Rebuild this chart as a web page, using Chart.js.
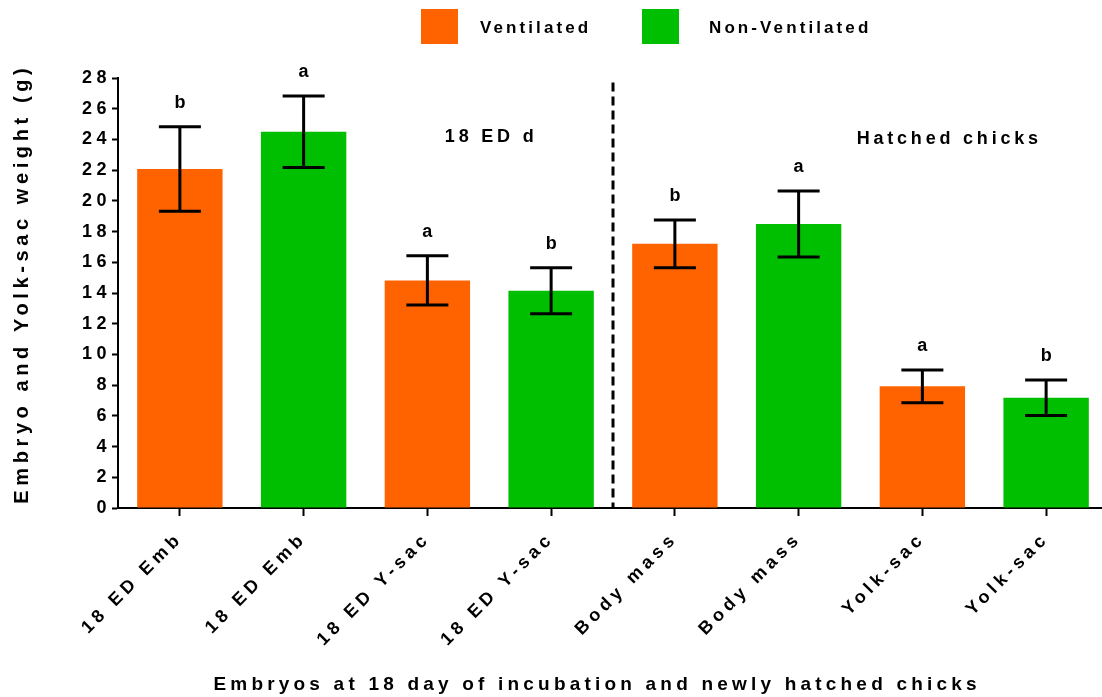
<!DOCTYPE html>
<html>
<head>
<meta charset="utf-8">
<script src="https://cdn.jsdelivr.net/npm/chart.js@4.4.1/dist/chart.umd.min.js"></script>
<style>
  html, body { margin: 0; padding: 0; background: #fff; overflow: hidden; }
  #wrap { position: relative; width: 1108px; height: 697px; }
</style>
</head>
<body>
<div id="wrap"><canvas id="chart"></canvas></div>
<script>
// categories on the x axis
const categories = ['18 ED Emb', '18 ED Emb', '18 ED Y-sac', '18 ED Y-sac',
                    'Body mass', 'Body mass', 'Yolk-sac', 'Yolk-sac'];
const seriesNames = ['Ventilated', 'Non-Ventilated'];

// means and error (+/-), null where the other group sits
const ventilatedMean = [22.08, null, 14.82, null, 17.2, null, 7.92, null];
const ventilatedErr  = [2.75,  null, 1.6,   null, 1.55, null, 1.07, null];
const nonVentMean    = [null, 24.5, null, 14.15, null, 18.5, null, 7.18];
const nonVentErr     = [null, 2.33, null, 1.5,   null, 2.15, null, 1.15];

// significance letters above each bar
const sigLetters = ['b', 'a', 'a', 'b', 'b', 'a', 'a', 'b'];

// y axis ticks
const yMin = 0, yMax = 28, yStep = 2;

const groupLabels = ['18 ED d', 'Hatched chicks'];
const xTitle = 'Embryos at 18 day of incubation and newly hatched chicks';
const yTitle = 'Embryo and Yolk-sac weight (g)';

const ORANGE = '#FF6300';
const GREEN = '#00BF00';
const FONT = 'Arial, "Liberation Sans", sans-serif';

function spacedText(ctx, text, x, y, size, spacing, align) {
  ctx.save();
  ctx.font = 'bold ' + size + 'px ' + FONT;
  ctx.letterSpacing = spacing + 'px';
  ctx.fillStyle = '#000';
  ctx.textBaseline = 'middle';
  ctx.textAlign = align || 'center';
  const dx = (align === 'left') ? 0 : spacing / 2;
  ctx.fillText(text, x + dx, y);
  ctx.restore();
}

// error bars + letters
const errorBars = {
  id: 'errorBars',
  afterDatasetsDraw(chart) {
    const ctx = chart.ctx;
    const ys = chart.scales.y;
    chart.data.datasets.forEach((ds, di) => {
      const meta = chart.getDatasetMeta(di);
      meta.data.forEach((bar, i) => {
        const m = ds.data[i];
        if (m == null) return;
        const e = ds.errors[i];
        const top = ys.getPixelForValue(m + e);
        const bot = ys.getPixelForValue(m - e);
        ctx.save();
        ctx.strokeStyle = '#000';
        ctx.lineWidth = 3;
        ctx.beginPath();
        ctx.moveTo(bar.x, top); ctx.lineTo(bar.x, bot);
        ctx.moveTo(bar.x - 21, top); ctx.lineTo(bar.x + 21, top);
        ctx.moveTo(bar.x - 21, bot); ctx.lineTo(bar.x + 21, bot);
        ctx.stroke();
        ctx.restore();
        spacedText(ctx, sigLetters[i], bar.x, top - 24, 18, 0);
      });
    });
  }
};

// divider, group labels, axis titles, legend
const decorations = {
  id: 'decorations',
  beforeDraw(chart) {
    chart.ctx.letterSpacing = '4.5px';
  },
  beforeDatasetsDraw(chart) {
    chart.ctx.letterSpacing = '0px';
  },
  afterDraw(chart) {
    const ctx = chart.ctx;
    const xs = chart.scales.x, ys = chart.scales.y;
    ctx.letterSpacing = '0px';

    // dashed divider between the two groups
    const dx = (xs.getPixelForValue(3) + xs.getPixelForValue(4)) / 2;
    ctx.save();
    ctx.strokeStyle = '#000';
    ctx.lineWidth = 3;
    ctx.setLineDash([9, 5]);
    ctx.beginPath();
    ctx.moveTo(dx, ys.getPixelForValue(27.7));
    ctx.lineTo(dx, ys.bottom);
    ctx.stroke();
    ctx.restore();

    // group labels
    const g1 = (xs.getPixelForValue(2) + xs.getPixelForValue(3)) / 2;
    spacedText(ctx, groupLabels[0], g1, ys.getPixelForValue(24.15), 18, 3.8);
    const g2 = xs.getPixelForValue(6) + 25;
    spacedText(ctx, groupLabels[1], g2, ys.getPixelForValue(24.05), 18, 3.8);

    // axis titles
    spacedText(ctx, xTitle, 595, 685, 19, 4.2);
    ctx.save();
    ctx.translate(22, 286);
    ctx.rotate(-Math.PI / 2);
    spacedText(ctx, yTitle, 0, 0, 20, 4.6);
    ctx.restore();

    // legend
    const items = [
      { x: 421, color: chart.data.datasets[0].backgroundColor, text: chart.data.datasets[0].label, tx: 480 },
      { x: 642, color: chart.data.datasets[1].backgroundColor, text: chart.data.datasets[1].label, tx: 709 }
    ];
    items.forEach(it => {
      ctx.fillStyle = it.color;
      ctx.fillRect(it.x, 9, 37, 35);
      spacedText(ctx, it.text, it.tx, 28, 17, 3.1, 'left');
    });
  }
};

new Chart(document.getElementById('chart'), {
  type: 'bar',
  data: {
    labels: categories,
    datasets: [
      { label: seriesNames[0], data: ventilatedMean, errors: ventilatedErr,
        backgroundColor: ORANGE, skipNull: true },
      { label: seriesNames[1], data: nonVentMean, errors: nonVentErr,
        backgroundColor: GREEN, skipNull: true }
    ]
  },
  options: {
    responsive: true,
    maintainAspectRatio: false,
    devicePixelRatio: 1,
    animation: false,
    events: [],
    datasets: { bar: { barPercentage: 0.69, categoryPercentage: 1 } },
    layout: { padding: { top: 78, left: 0, right: 0, bottom: 0 } },
    plugins: { legend: { display: false }, tooltip: { enabled: false } },
    scales: {
      x: {
        afterFit: s => { s.height = 189; },
        grid: { offset: false, drawOnChartArea: false, tickLength: 8, tickColor: '#000', tickWidth: 2, color: '#000' },
        border: { display: true, color: '#000', width: 2 },
        ticks: { minRotation: 45, maxRotation: 45, autoSkip: false, padding: 12,
                 color: '#000', font: { family: FONT, size: 18, weight: 'bold' } }
      },
      y: {
        min: yMin, max: yMax,
        afterFit: s => { s.width = 118; },
        grid: { drawOnChartArea: false, tickLength: 6, tickColor: '#000', tickWidth: 2, color: '#000' },
        border: { display: true, color: '#000', width: 2 },
        ticks: { stepSize: yStep, padding: 1, color: '#000',
                 font: { family: FONT, size: 18, weight: 'bold' } }
      }
    }
  },
  plugins: [errorBars, decorations]
});
</script>
</body>
</html>
